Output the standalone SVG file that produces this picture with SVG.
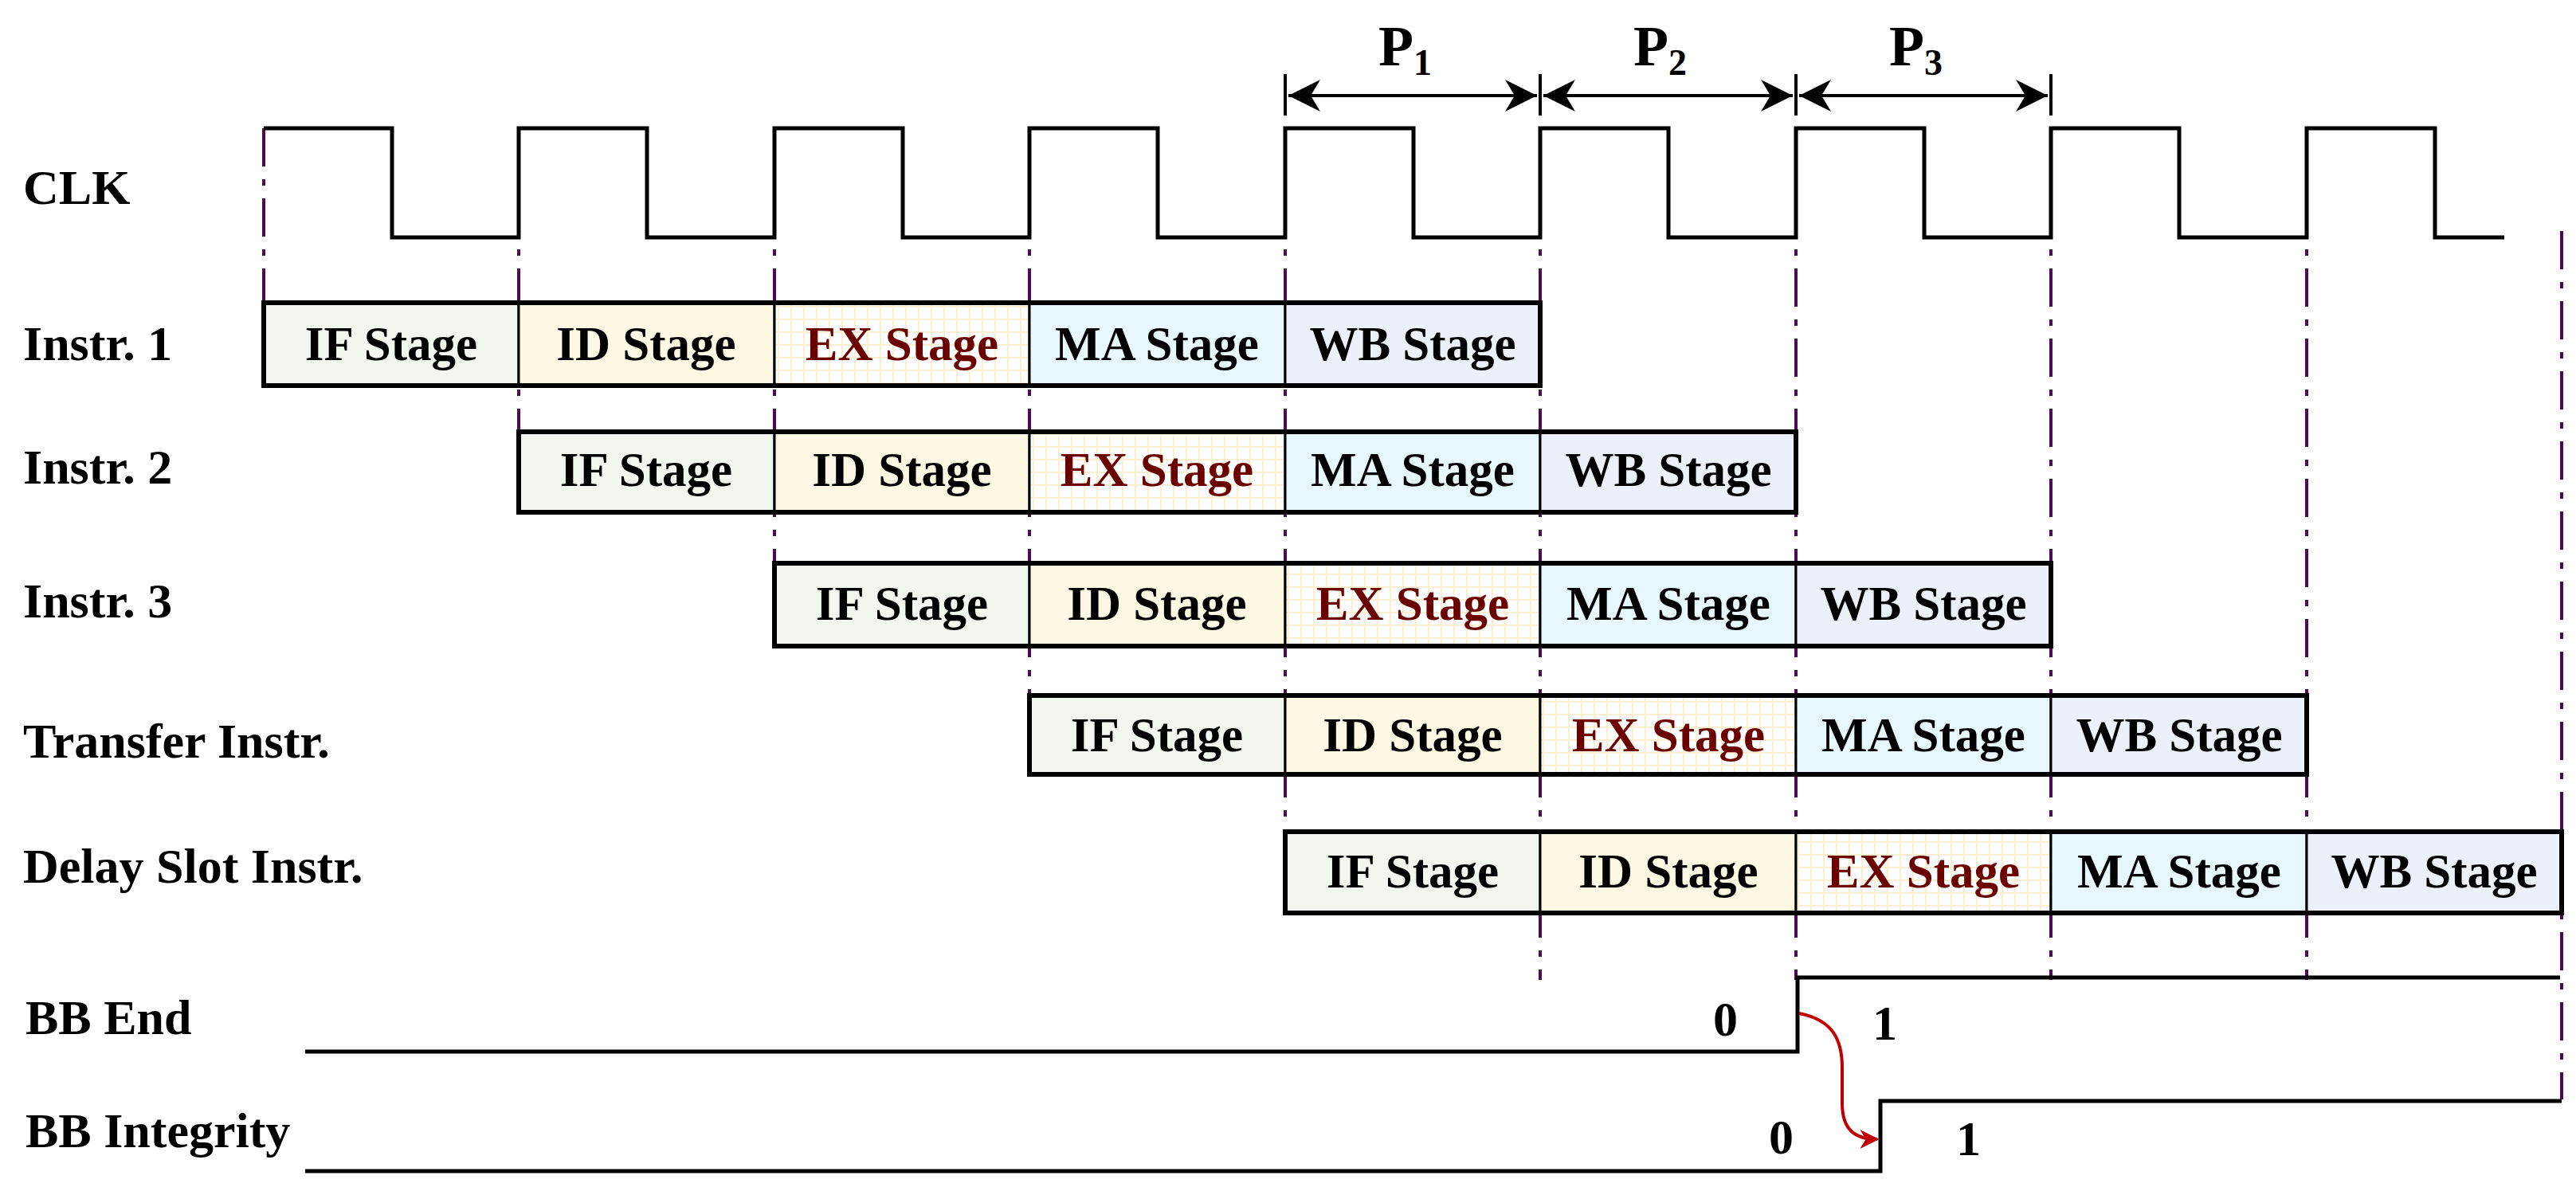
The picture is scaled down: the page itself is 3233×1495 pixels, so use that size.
<svg xmlns="http://www.w3.org/2000/svg" width="3233" height="1495" viewBox="0 0 3233 1495">
<style>
text{font-family:"Liberation Serif","Times New Roman",serif;font-weight:bold}
.lbl{font-size:62px}
.st{font-size:61px;text-anchor:middle}
.ex{fill:#6b0000}
.box{stroke:#000;stroke-width:3}
.out{fill:none;stroke:#000;stroke-width:6}
.vd{stroke:#4d0a50;stroke-width:4;stroke-dasharray:48 16 8 16;fill:none}
.sig{fill:none;stroke:#000;stroke-width:5}
.pa{stroke:#000;stroke-width:4;fill:none;marker-start:url(#as);marker-end:url(#ar)}
</style>
<defs>
<pattern id="grid" width="16" height="16" patternUnits="userSpaceOnUse">
<rect width="16" height="16" fill="#fff"/>
<path d="M0 0H16M0 0V16" stroke="#fbefcf" stroke-width="4"/>
</pattern>
<marker id="ar" viewBox="0 0 10 10" refX="10" refY="5" markerWidth="10" markerHeight="10" markerUnits="strokeWidth" orient="auto"><path d="M0 0L10 5L0 10L3 5Z" fill="#000"/></marker>
<marker id="as" viewBox="0 0 10 10" refX="0" refY="5" markerWidth="10" markerHeight="10" markerUnits="strokeWidth" orient="auto"><path d="M10 0L0 5L10 10L7 5Z" fill="#000"/></marker>
<marker id="ra" viewBox="0 0 10 10" refX="9" refY="5" markerWidth="6" markerHeight="6" orient="auto"><path d="M0 0L10 5L0 10L3 5Z" fill="#c00000"/></marker>
</defs>
<g id="guides">
<path class="vd" d="M331 161V380M651 161V542M972 161V707M1292 161V873M1613 161V1044M1933 161V1230M2254 161V1230M2574 161V1230M2895 161V1230M3215 290V1380"/>
</g>
<g id="labels">
<text class="lbl" x="29" y="256">CLK</text>
<text class="lbl" x="29" y="452">Instr. 1</text>
<text class="lbl" x="29" y="607">Instr. 2</text>
<text class="lbl" x="29" y="775">Instr. 3</text>
<text class="lbl" x="29" y="951">Transfer Instr.</text>
<text class="lbl" x="29" y="1108">Delay Slot Instr.</text>
<text class="lbl" x="32" y="1298">BB End</text>
<text class="lbl" x="32" y="1440">BB Integrity</text>
</g>
<g id="clk">
<path class="sig" d="M331 161H492V298H651V161H812V298H972V161H1133V298H1292V161H1453V298H1613V161H1774V298H1933V161H2094V298H2254V161H2415V298H2574V161H2735V298H2895V161H3056V298H3143"/>
</g>
<g id="periods">
<path stroke="#000" stroke-width="4" d="M1613 93V145M1933 93V145M2254 93V145M2574 93V145"/>
<path class="pa" d="M1617 120H1929"/>
<path class="pa" d="M1937 120H2250"/>
<path class="pa" d="M2258 120H2570"/>
<text x="1730" y="82" font-size="72">P<tspan font-size="46" dy="12">1</tspan></text>
<text x="2050" y="82" font-size="72">P<tspan font-size="46" dy="12">2</tspan></text>
<text x="2371" y="82" font-size="72">P<tspan font-size="46" dy="12">3</tspan></text>
</g>
<g id="instr1">
<rect class="box" x="331" y="380" width="320" height="104" fill="#f1f7ef"/><rect class="box" x="651" y="380" width="321" height="104" fill="#fdf8e3"/><rect class="box" x="972" y="380" width="320" height="104" fill="url(#grid)"/><rect class="box" x="1292" y="380" width="321" height="104" fill="#e8f7fd"/><rect class="box" x="1613" y="380" width="320" height="104" fill="#ecf0f9"/>
<rect class="out" x="331" y="380" width="1602" height="104"/>
<text class="st" x="491" y="452">IF Stage</text><text class="st" x="811" y="452">ID Stage</text><text class="st ex" x="1132" y="452">EX Stage</text><text class="st" x="1452" y="452">MA Stage</text><text class="st" x="1773" y="452">WB Stage</text>
</g>
<g id="instr2">
<rect class="box" x="651" y="542" width="321" height="101" fill="#f1f7ef"/><rect class="box" x="972" y="542" width="320" height="101" fill="#fdf8e3"/><rect class="box" x="1292" y="542" width="321" height="101" fill="url(#grid)"/><rect class="box" x="1613" y="542" width="320" height="101" fill="#e8f7fd"/><rect class="box" x="1933" y="542" width="321" height="101" fill="#ecf0f9"/>
<rect class="out" x="651" y="542" width="1603" height="101"/>
<text class="st" x="811" y="610">IF Stage</text><text class="st" x="1132" y="610">ID Stage</text><text class="st ex" x="1452" y="610">EX Stage</text><text class="st" x="1773" y="610">MA Stage</text><text class="st" x="2094" y="610">WB Stage</text>
</g>
<g id="instr3">
<rect class="box" x="972" y="707" width="320" height="104" fill="#f1f7ef"/><rect class="box" x="1292" y="707" width="321" height="104" fill="#fdf8e3"/><rect class="box" x="1613" y="707" width="320" height="104" fill="url(#grid)"/><rect class="box" x="1933" y="707" width="321" height="104" fill="#e8f7fd"/><rect class="box" x="2254" y="707" width="320" height="104" fill="#ecf0f9"/>
<rect class="out" x="972" y="707" width="1602" height="104"/>
<text class="st" x="1132" y="778">IF Stage</text><text class="st" x="1452" y="778">ID Stage</text><text class="st ex" x="1773" y="778">EX Stage</text><text class="st" x="2094" y="778">MA Stage</text><text class="st" x="2414" y="778">WB Stage</text>
</g>
<g id="transfer">
<rect class="box" x="1292" y="873" width="321" height="99" fill="#f1f7ef"/><rect class="box" x="1613" y="873" width="320" height="99" fill="#fdf8e3"/><rect class="box" x="1933" y="873" width="321" height="99" fill="url(#grid)"/><rect class="box" x="2254" y="873" width="320" height="99" fill="#e8f7fd"/><rect class="box" x="2574" y="873" width="321" height="99" fill="#ecf0f9"/>
<rect class="out" x="1292" y="873" width="1603" height="99"/>
<text class="st" x="1452" y="943">IF Stage</text><text class="st" x="1773" y="943">ID Stage</text><text class="st ex" x="2094" y="943">EX Stage</text><text class="st" x="2414" y="943">MA Stage</text><text class="st" x="2735" y="943">WB Stage</text>
</g>
<g id="delay">
<rect class="box" x="1613" y="1044" width="320" height="102" fill="#f1f7ef"/><rect class="box" x="1933" y="1044" width="321" height="102" fill="#fdf8e3"/><rect class="box" x="2254" y="1044" width="320" height="102" fill="url(#grid)"/><rect class="box" x="2574" y="1044" width="321" height="102" fill="#e8f7fd"/><rect class="box" x="2895" y="1044" width="320" height="102" fill="#ecf0f9"/>
<rect class="out" x="1613" y="1044" width="1602" height="102"/>
<text class="st" x="1773" y="1114">IF Stage</text><text class="st" x="2094" y="1114">ID Stage</text><text class="st ex" x="2414" y="1114">EX Stage</text><text class="st" x="2735" y="1114">MA Stage</text><text class="st" x="3055" y="1114">WB Stage</text>
</g>
<g id="bbend">
<path class="sig" d="M383 1320H2256V1227H3213"/>
<text x="2150" y="1300" font-size="62">0</text>
<text x="2350" y="1305" font-size="62">1</text>
</g>
<g id="bbint">
<path class="sig" d="M383 1470H2360V1382H3215"/>
<text x="2220" y="1448" font-size="62">0</text>
<text x="2455" y="1450" font-size="62">1</text>
</g>
<g id="connectors">
<path d="M2258 1272C2300 1280 2312 1305 2312 1340V1385C2312 1415 2325 1430 2356 1430" fill="none" stroke="#c00000" stroke-width="4" marker-end="url(#ra)"/>
</g>
</svg>
